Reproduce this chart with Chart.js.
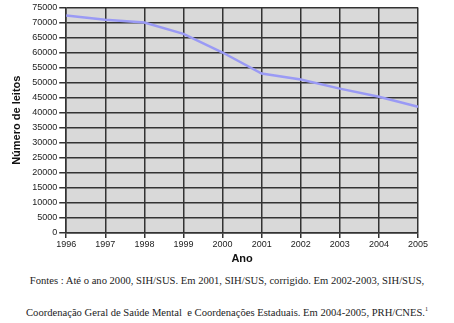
<!DOCTYPE html>
<html>
<head>
<meta charset="utf-8">
<script src="https://cdn.jsdelivr.net/npm/chart.js@4"></script>
<style>
  html, body { margin: 0; padding: 0; background: #fff; }
  #wrap { position: relative; width: 454px; height: 323px; }
  #box { position: absolute; left: 0; top: 0; width: 454px; height: 270px; }
  .fonte { position: absolute; left: 0; width: 454px; text-align: center;
           font-family: "Liberation Serif", "DejaVu Serif", serif; font-size: 10.6px; color: #222; }
  sup { font-size: 6px; }
</style>
</head>
<body>
<div id="wrap">
  <div id="box"><canvas id="leitosChart"></canvas></div>
  <div class="fonte" style="top:275px">Fontes : Até o ano 2000, SIH/SUS. Em 2001, SIH/SUS, corrigido. Em 2002-2003, SIH/SUS,</div>
  <div class="fonte" style="top:306px">Coordenação Geral de Saúde Mental&nbsp; e Coordenações Estaduais. Em 2004-2005, PRH/CNES.<sup>1</sup></div>
</div>
<script>
// Número de leitos psiquiátricos por ano
const anos = ['1996', '1997', '1998', '1999', '2000', '2001', '2002', '2003', '2004', '2005'];
const leitos = [72300, 70900, 70000, 66200, 60000, 53000, 51000, 48000, 45300, 42000];

// fundo cinza da área do gráfico
const fundoCinza = {
    id: 'fundoCinza',
    beforeDraw(chart) {
        const a = chart.chartArea;
        const c = chart.ctx;
        c.save();
        c.fillStyle = '#d9d9d9';
        c.fillRect(a.left, a.top, a.right - a.left, a.bottom - a.top);
        c.restore();
    }
};

const ctx = document.getElementById('leitosChart').getContext('2d');
new Chart(ctx, {
    type: 'line',
    data: {
        labels: anos,
        datasets: [{
            data: leitos,
            borderColor: '#9a9af5',
            borderWidth: 2.5,
            pointRadius: 0,
            tension: 0,
            fill: false
        }]
    },
    options: {
        responsive: true,
        maintainAspectRatio: false,
        animation: false,
        layout: { padding: { top: 2, right: 36, left: 6, bottom: 0 } },
        plugins: { legend: { display: false }, tooltip: { enabled: false } },
        scales: {
            x: {
                offset: false,
                grid: { color: '#333', lineWidth: 1.5, tickLength: 5, offset: false },
                border: { color: '#333', width: 1.5 },
                ticks: { color: '#222', font: { family: 'Liberation Sans', size: 9 }, maxRotation: 0, padding: 1 },
                title: { display: true, text: 'Ano', color: '#111', font: { family: 'Liberation Sans', size: 11, weight: 'bold' }, padding: { top: 2 } }
            },
            y: {
                min: 0,
                max: 75000,
                grid: { color: '#333', lineWidth: 1.5, tickLength: 7 },
                border: { color: '#333', width: 1.5 },
                ticks: {
                    stepSize: 5000, autoSkip: false, color: '#222', padding: 2,
                    font: { family: 'Liberation Sans', size: 9 },
                    callback: v => String(v)
                },
                title: { display: true, text: 'Número de leitos', color: '#111', font: { family: 'Liberation Sans', size: 11, weight: 'bold' }, padding: { bottom: 7 } }
            }
        }
    },
    plugins: [fundoCinza]
});
</script>
</body>
</html>
